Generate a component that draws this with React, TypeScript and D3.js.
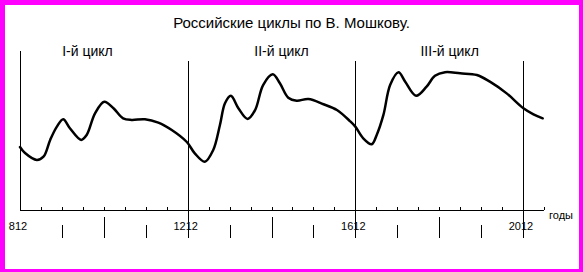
import React from "react";
import * as d3 from "d3";

const years = [812, 824, 852, 868, 884, 900, 915, 931, 958, 971, 991, 1013, 1035, 1058, 1078, 1110, 1142, 1174, 1210, 1229, 1253, 1273, 1289, 1301, 1315, 1333, 1355, 1373, 1392, 1415, 1432, 1452, 1472, 1500, 1536, 1568, 1599, 1612, 1631, 1651, 1663, 1679, 1695, 1715, 1731, 1757, 1782, 1802, 1826, 1862, 1902, 1933, 1973, 2013, 2037, 2059];
const values = [39.4, 35.6, 31.3, 33.3, 43.8, 52.1, 56.7, 51.1, 43.8, 46.9, 60.4, 67.7, 63.6, 57.3, 56.3, 56.7, 54.6, 50.0, 42.5, 35.4, 30.2, 37.5, 53.1, 66.7, 71.4, 63.6, 56.9, 62.5, 78.1, 84.8, 79.2, 70.2, 68.3, 69.4, 66.1, 62.5, 55.6, 52.1, 44.8, 41.1, 46.9, 59.4, 78.1, 86.1, 80.2, 71.4, 77.1, 83.9, 86.1, 85.4, 84.4, 80.2, 72.9, 63.6, 59.8, 57.3];

const cycleBounds = [1212, 1612, 2012];
const yearLabels = [812, 1212, 1612, 2012];
const cycleNames = ["I-й цикл", "II-й цикл", "III-й цикл"];
const cycleLabelYears = [973, 1436, 1837];
const minorTickYears = d3.range(862, 2063, 50);
const shortTicks = [912, 1112, 1312, 1512, 1712, 1912];
const longTicks = [1012, 1412, 1812];
const title = "Российские циклы по В. Мошкову.";
const axisUnit = "годы";

export default function App() {
  const W = 583, H = 272;
  const x = d3.scaleLinear().domain([812, 2012]).range([20, 523]);
  const y = d3.scaleLinear().domain([0, 100]).range([210, 50]);
  const axisY = y(0);
  const xEnd = x(2062);
  const line = d3
    .line<number>()
    .x((_, i) => x(years[i]))
    .y((d) => y(d))
    .curve(d3.curveCatmullRom.alpha(0.5));
  const font = "'Liberation Sans', Arial, sans-serif";

  return (
    <svg width={W} height={H} style={{ position: "absolute", left: 0, top: 0 }} fontFamily={font}>
      <rect x={0} y={0} width={W} height={H} fill="#ff00ff" />
      <rect x={5} y={5} width={574} height={264} fill="#ffffff" />
      <text x={291.5} y={28} textAnchor="middle" fontSize={15}>{title}</text>
      {cycleNames.map((n, i) => (
        <text key={n} x={x(cycleLabelYears[i])} y={56} textAnchor="middle" fontSize={14}>{n}</text>
      ))}
      <line x1={x(812) + 0.5} x2={x(812) + 0.5} y1={51} y2={axisY} stroke="#000" strokeWidth={1} />
      <line x1={x(812)} x2={xEnd} y1={axisY + 0.5} y2={axisY + 0.5} stroke="#000" strokeWidth={1} />
      {minorTickYears.map((t) => (
        <line key={t} x1={Math.round(x(t)) + 0.5} x2={Math.round(x(t)) + 0.5} y1={axisY - 3} y2={axisY} stroke="#000" strokeWidth={1} />
      ))}
      {cycleBounds.map((t) => (
        <line key={t} x1={Math.round(x(t)) + 0.5} x2={Math.round(x(t)) + 0.5} y1={61} y2={238} stroke="#000" strokeWidth={1} />
      ))}
      {shortTicks.map((t) => (
        <line key={t} x1={Math.round(x(t)) + 0.5} x2={Math.round(x(t)) + 0.5} y1={225} y2={238} stroke="#000" strokeWidth={1} />
      ))}
      {longTicks.map((t) => (
        <line key={t} x1={Math.round(x(t)) + 0.5} x2={Math.round(x(t)) + 0.5} y1={217} y2={238} stroke="#000" strokeWidth={1} />
      ))}
      {yearLabels.map((t) => (
        <text key={t} x={x(t) - 2} y={229.5} textAnchor="middle" fontSize={11}>{t}</text>
      ))}
      <text x={549} y={219} fontSize={11}>{axisUnit}</text>
      <path d={line(values) || ""} fill="none" stroke="#000" strokeWidth={2.5} strokeLinejoin="round" strokeLinecap="round" />
    </svg>
  );
}
